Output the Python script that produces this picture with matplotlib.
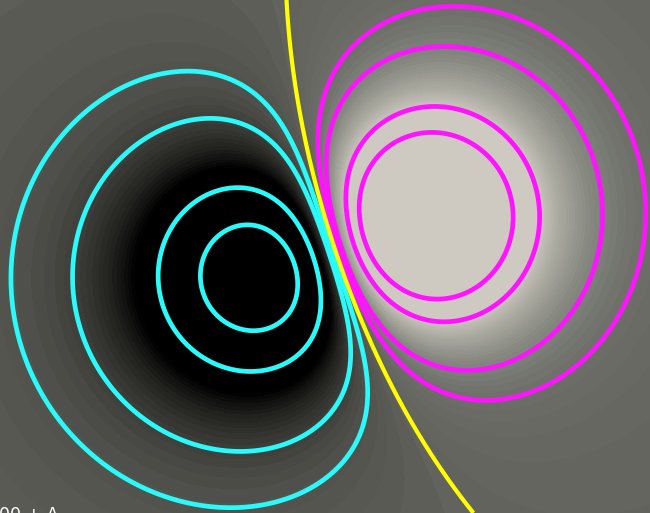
import numpy as np
import matplotlib
matplotlib.use("Agg")
import matplotlib.pyplot as plt
from matplotlib.colors import LinearSegmentedColormap

# sources, in units of 100 px, y grows downward
pos_src = [4.272, 2.183]
neg_src = [2.625, 2.741]
pos_q = 0.720
neg_q = 1.0
pos_power = 3.185
neg_power = 3.130
pos_stretch_y = 1.0265
neg_stretch_y = 0.9888
pos_soften = 0.8305
neg_soften = 1.2010

# contour levels
neg_levels = [-0.349, -0.2087, -0.068, -0.0334]
pos_levels = [0.0357, 0.0699, 0.2182, 0.370]
zero_level = [0.0]

# colour ramp: field value -> rgb
ramp_vals = [-0.151, -0.113, -0.071, -0.035, -0.0083, 0.0, 0.036, 0.069, 0.130, 0.229]
ramp_cols = [(0, 0, 0), (30, 30, 28), (60, 60, 56), (82, 82, 77), (92, 92, 86),
             (99, 99, 94), (108, 110, 103), (125, 128, 120), (160, 160, 151), (206, 202, 194)]

W, H = 6.5, 5.13
x = np.linspace(0, W, 651)
y = np.linspace(0, H, 514)
X, Y = np.meshgrid(x, y)

rp2 = (X - pos_src[0])**2 + ((Y - pos_src[1]) / pos_stretch_y)**2 + pos_soften**2
rn2 = (X - neg_src[0])**2 + ((Y - neg_src[1]) / neg_stretch_y)**2 + neg_soften**2
Z = pos_q * rp2**(-pos_power / 2) - neg_q * rn2**(-neg_power / 2)

vmin, vmax = ramp_vals[0], ramp_vals[-1]
stops = [(v - vmin) / (vmax - vmin) for v in ramp_vals]
cmap = LinearSegmentedColormap.from_list(
    "field", [(s, tuple(c / 255 for c in col)) for s, col in zip(stops, ramp_cols)])

fig = plt.figure(figsize=(6.5, 5.13), dpi=100)
ax = fig.add_axes([0, 0, 1, 1])
fill_levels = np.linspace(vmin, vmax, 60)
ax.contourf(X, Y, Z, levels=fill_levels, cmap=cmap, vmin=vmin, vmax=vmax, extend="both")
ax.contour(X, Y, Z, levels=neg_levels, colors="#2afafa", linewidths=3.4, linestyles="solid")
ax.contour(X, Y, Z, levels=pos_levels, colors="#ff14ff", linewidths=3.4, linestyles="solid")
ax.contour(X, Y, Z, levels=zero_level, colors="#ffff00", linewidths=3.0, linestyles="solid")
ax.set_xlim(0, W)
ax.set_ylim(H, 0)
ax.axis("off")

fig.text(-0.002, -0.013, "00 + A", color="white", fontsize=12.5, ha="left", va="baseline")

fig.savefig("out.png", dpi=100)
